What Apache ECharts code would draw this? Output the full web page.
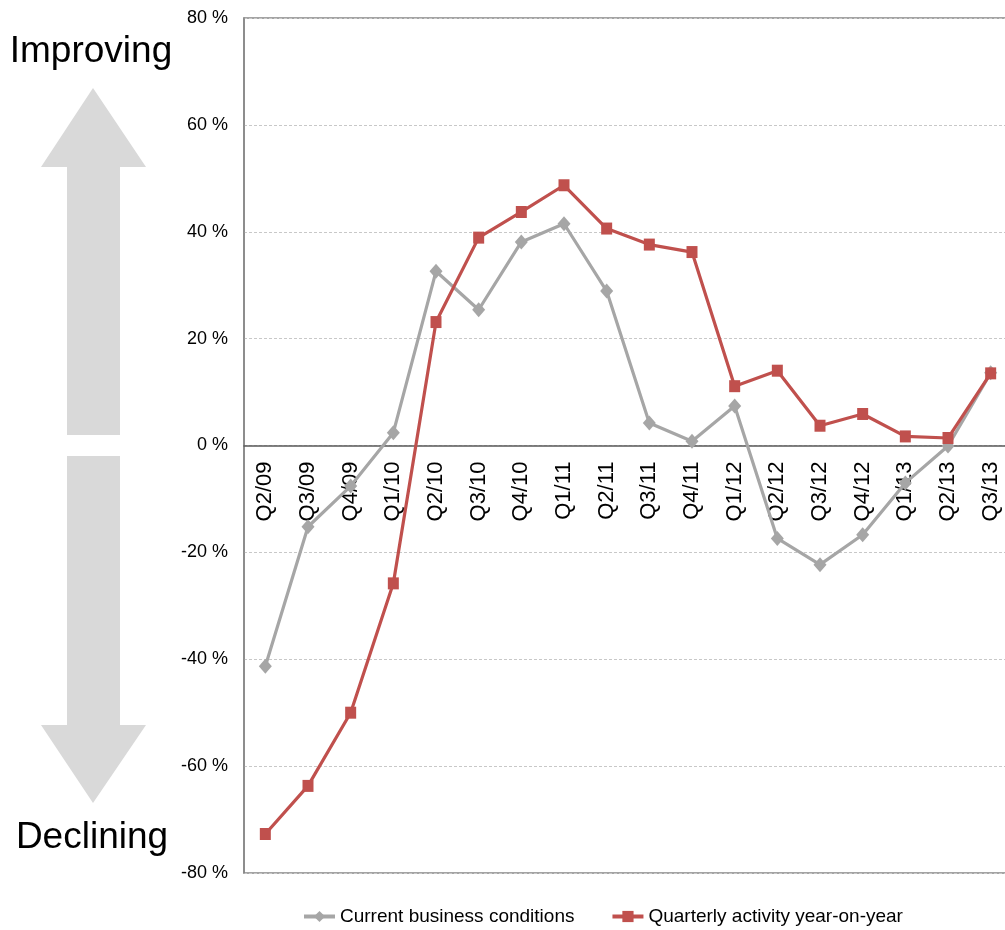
<!DOCTYPE html>
<html>
<head>
<meta charset="utf-8">
<script src="https://cdn.jsdelivr.net/npm/echarts@6/dist/echarts.min.js"></script>
<style>
  html, body { margin: 0; padding: 0; background: #ffffff; }
  #chart { width: 1005px; height: 930px; }
</style>
</head>
<body>
<div id="chart"></div>
<script>
// Quarter labels along the category axis
const quarters = ['Q2/09', 'Q3/09', 'Q4/09', 'Q1/10', 'Q2/10', 'Q3/10', 'Q4/10', 'Q1/11', 'Q2/11',
                  'Q3/11', 'Q4/11', 'Q1/12', 'Q2/12', 'Q3/12', 'Q4/12', 'Q1/13', 'Q2/13', 'Q3/13'];

// Net balance, % of respondents
const currentConditions = [-41.3, -15.2, -7.6, 2.4, 32.6, 25.4, 38.1, 41.5, 28.9,
                           4.2, 0.8, 7.4, -17.4, -22.3, -16.7, -7.0, -0.1, 13.6];
const quarterlyActivity = [-72.7, -63.7, -50.0, -25.8, 23.1, 38.9, 43.7, 48.7, 40.6,
                           37.6, 36.2, 11.1, 14.0, 3.7, 5.9, 1.7, 1.4, 13.5];

// Value axis ticks
const yMin = -80, yMax = 80, yStep = 20;

const seriesNames = ['Current business conditions', 'Quarterly activity year-on-year'];

const font = "'Liberation Sans', Arial, sans-serif";
const arrowColor = '#d9d9d9';

// Plot box
const gridTop = 18, gridHeight = 855;
// Shift the category axis up from the bottom edge to the zero line
const zeroOffset = -gridHeight * (0 - yMin) / (yMax - yMin);

const chart = echarts.init(document.getElementById('chart'), null, { renderer: 'canvas' });

chart.setOption({
  backgroundColor: '#ffffff',
  animation: false,
  grid: {
    left: 244, top: gridTop, width: 768, height: gridHeight,
    containLabel: false, outerBoundsMode: 'none',
    show: true, borderColor: '#868686', borderWidth: 1.5, backgroundColor: 'transparent'
  },
  legend: {
    left: 297, top: 902,
    itemWidth: 31, itemHeight: 14, itemGap: 36,
    lineStyle: { width: 4 },
    textStyle: { fontFamily: font, fontSize: 19, color: '#000000' },
    data: seriesNames
  },
  xAxis: {
    type: 'category',
    data: quarters,
    boundaryGap: true,
    position: 'bottom',
    offset: zeroOffset,
    axisLine: { show: true, onZero: false, lineStyle: { color: '#595959', width: 1.5 } },
    axisTick: { show: false },
    axisLabel: {
      rotate: 90, margin: 16, interval: 0,
      fontFamily: font, fontSize: 22, color: '#000000'
    },
    splitLine: { show: false }
  },
  yAxis: {
    type: 'value',
    min: yMin, max: yMax, interval: yStep,
    axisLine: { show: true, lineStyle: { color: '#868686', width: 1.5 } },
    axisTick: { show: false },
    axisLabel: {
      formatter: '{value} %', margin: 16,
      fontFamily: font, fontSize: 18, color: '#000000'
    },
    splitLine: { show: true, lineStyle: { color: '#c8c8c8', type: [3, 2], width: 1 } }
  },
  series: [
    {
      name: seriesNames[0],
      type: 'line',
      data: currentConditions,
      symbol: 'diamond', symbolSize: [13, 15],
      lineStyle: { color: '#a6a6a6', width: 3.2 },
      itemStyle: { color: '#a6a6a6' },
      z: 2
    },
    {
      name: seriesNames[1],
      type: 'line',
      data: quarterlyActivity,
      symbol: 'rect', symbolSize: [11, 12],
      lineStyle: { color: '#c0504d', width: 3.2 },
      itemStyle: { color: '#c0504d' },
      z: 3
    }
  ],
  graphic: [
    {
      type: 'polygon',
      shape: { points: [[93, 88], [146, 167], [120, 167], [120, 435], [67, 435], [67, 167], [41, 167]] },
      style: { fill: arrowColor }
    },
    {
      type: 'polygon',
      shape: { points: [[67, 456], [120, 456], [120, 725], [146, 725], [93, 803], [41, 725], [67, 725]] },
      style: { fill: arrowColor }
    },
    {
      type: 'text', x: 91, y: 52,
      style: { text: 'Improving', fill: '#000000', font: "37px " + font, align: 'center', verticalAlign: 'middle' }
    },
    {
      type: 'text', x: 92, y: 838,
      style: { text: 'Declining', fill: '#000000', font: "37px " + font, align: 'center', verticalAlign: 'middle' }
    }
  ]
});
</script>
</body>
</html>
